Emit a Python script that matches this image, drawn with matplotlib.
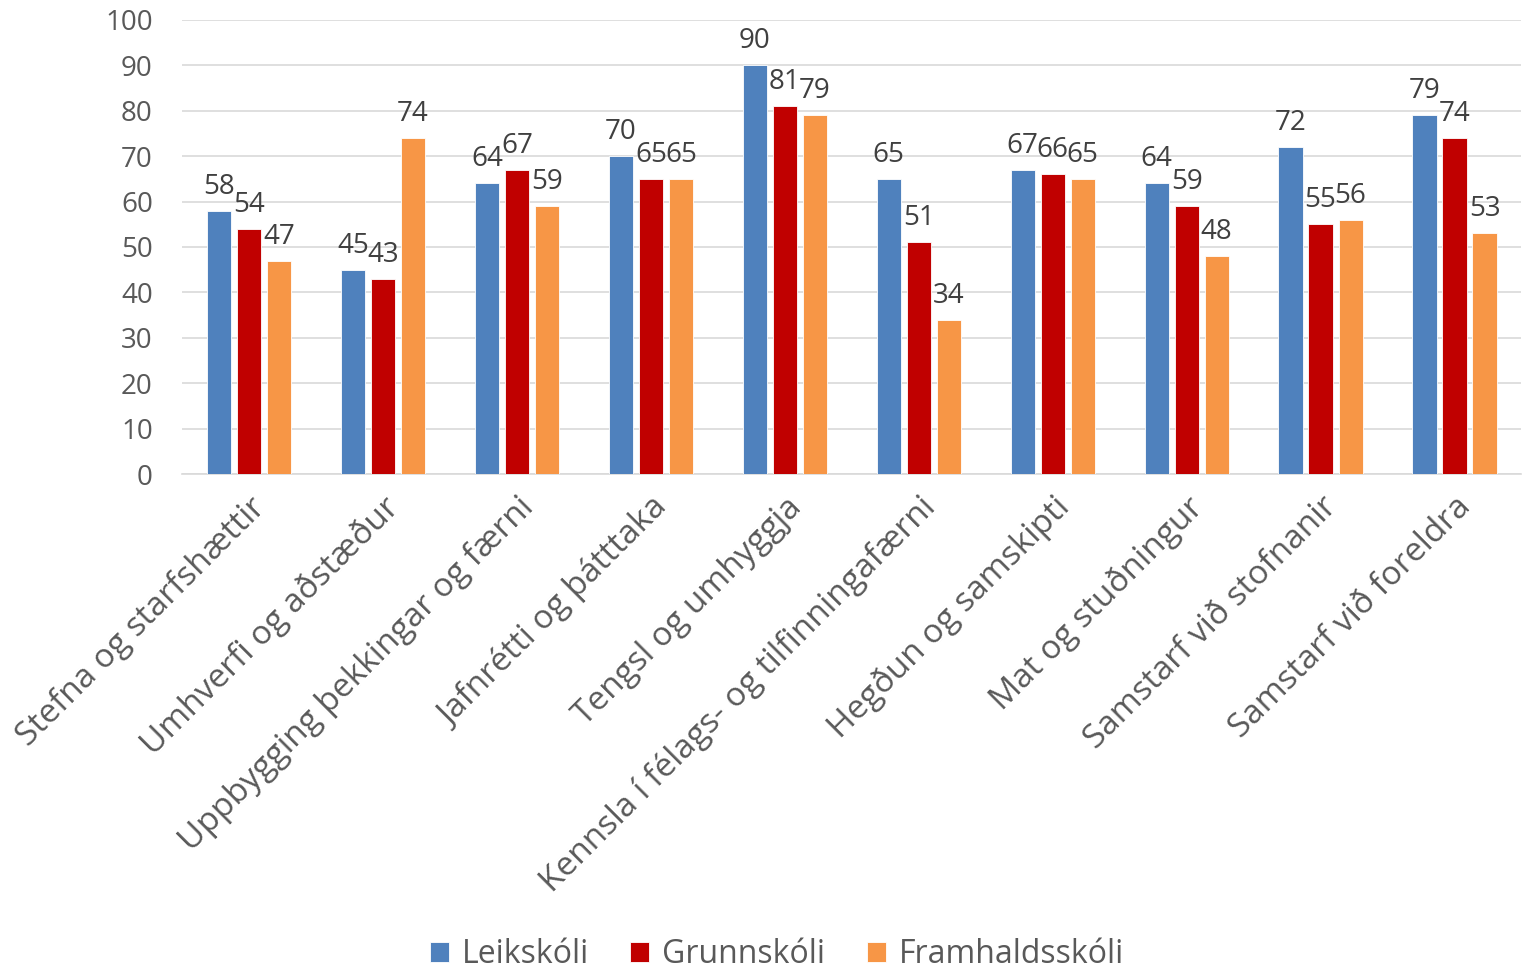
import numpy as np
import matplotlib
matplotlib.use("Agg")
import matplotlib.pyplot as plt

flokkar = [
    "Stefna og starfshættir",
    "Umhverfi og aðstæður",
    "Uppbygging þekkingar og færni",
    "Jafnrétti og þátttaka",
    "Tengsl og umhyggja",
    "Kennsla í félags- og tilfinningafærni",
    "Hegðun og samskipti",
    "Mat og stuðningur",
    "Samstarf við stofnanir",
    "Samstarf við foreldra",
]
leikskoli = [58, 45, 64, 70, 90, 65, 67, 64, 72, 79]
grunnskoli = [54, 43, 67, 65, 81, 51, 66, 59, 55, 74]
framhaldsskoli = [47, 74, 59, 65, 79, 34, 65, 48, 56, 53]

raðir = [
    ("Leikskóli", leikskoli, "#4F81BD"),
    ("Grunnskóli", grunnskoli, "#C00000"),
    ("Framhaldsskóli", framhaldsskoli, "#F79646"),
]

plt.rcParams['font.family'] = ['Open Sans', 'DejaVu Sans']

fig = plt.figure(figsize=(15.23, 9.69), dpi=100)
ax = fig.add_axes([0.1195, 0.5108, 0.8795, 0.4686])

x = np.arange(len(flokkar))
step = 0.224
width = 0.18
for i, (nafn, gildi, litur) in enumerate(raðir):
    pos = x + (i - 1) * step
    ax.bar(pos, gildi, width, color=litur, edgecolor="white", linewidth=0.6,
           label=nafn, zorder=3)
    for p, v in zip(pos, gildi):
        ax.text(p, v + 2.2, str(v), ha="center", va="bottom", fontsize=20,
                color="#404040")

ax.set_xlim(-0.5, len(flokkar) - 0.5)
ax.set_ylim(0, 100)
ax.set_yticks(range(0, 101, 10))
ax.yaxis.grid(True, color="#D9D9D9", linewidth=1.2, zorder=0)
ax.set_axisbelow(True)
for s in ["left", "right", "top"]:
    ax.spines[s].set_visible(False)
ax.spines["bottom"].set_color("#D9D9D9")
ax.spines["bottom"].set_linewidth(1.2)
ax.tick_params(axis="y", length=0, labelsize=20, labelcolor="#595959", pad=21)
ax.tick_params(axis="x", length=0, pad=12)
ax.set_xticks(x)
ax.set_xticklabels(flokkar, rotation=45, ha="right", rotation_mode="anchor",
                   fontsize=24, color="#595959")

fig.legend(loc="lower center", ncol=3, bbox_to_anchor=(0.51, -0.032), frameon=False,
           fontsize=23, labelcolor="#595959", handlelength=0.6, handleheight=0.6,
           columnspacing=1.3, handletextpad=0.4)

fig.savefig("out.png", dpi=100)
